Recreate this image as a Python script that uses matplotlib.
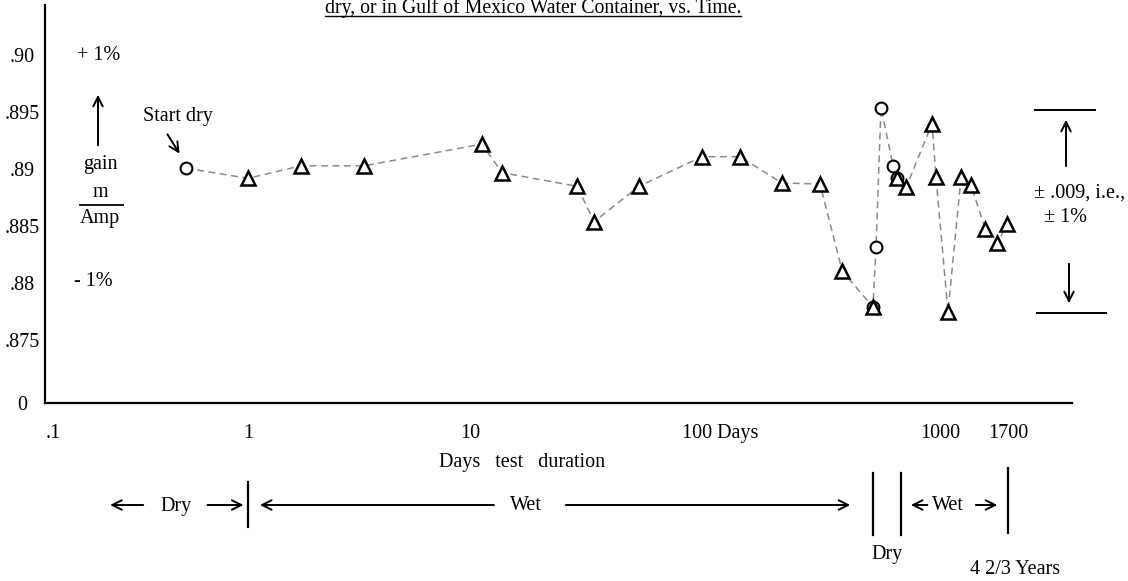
import numpy as np
import pandas as pd
import matplotlib
matplotlib.use("Agg")
import matplotlib.pyplot as plt
from matplotlib.lines import Line2D
from matplotlib.ticker import NullLocator
from matplotlib.transforms import blended_transform_factory, ScaledTranslation

# gain readings (m/Amp) vs days of test; circles = dry, triangles = wet
dry_days = [0.48, 528, 544, 570, 640, 664]
dry_gain = [0.8901, 0.8779, 0.8832, 0.8954, 0.8903, 0.8892]

wet_days = [1.0, 1.73, 3.33, 11.3, 13.8, 29.5, 35, 55, 104, 149, 222, 319, 394,
            528, 664, 724, 927, 962, 1064, 1178, 1274, 1421, 1561, 1687]
wet_gain = [0.8892, 0.8903, 0.8903, 0.8922, 0.8897, 0.8885, 0.8854, 0.8885,
            0.8911, 0.8911, 0.8888, 0.8887, 0.8811, 0.8779, 0.8892, 0.8884,
            0.8940, 0.8893, 0.8775, 0.8893, 0.8886, 0.8848, 0.8835, 0.8852]

x_ticks = [0.1, 1, 10, 100, 1000, 1700]
x_labels = [".1", "1", "10", "100 Days", "1000", "1700"]
y_floor = 0.8695
y_ticks = [0.90, 0.895, 0.89, 0.885, 0.88, 0.875, y_floor]
y_labels = [".90", ".895", ".89", ".885", ".88", ".875", "0"]

band_hi, band_lo = 0.8952, 0.8774
period_edges = [1, 528, 690, 1700]

title = "dry, or in Gulf of Mexico Water Container, vs. Time."

plt.rcParams["font.family"] = ["Liberation Serif", "DejaVu Serif"]
plt.rcParams["font.size"] = 14.5

W, H = 1128, 581
fig = plt.figure(figsize=(W / 100, H / 100), dpi=100)
ax = fig.add_axes([45 / W, (H - 403) / H, (1072 - 45) / W, (403 - 5) / H])


def fx(p):
    return p / W


def fy(p):
    return 1 - p / H


# hand drawn log axis: decades are not evenly spaced, so interpolate in log10
knot_log = np.log10(x_ticks)
knot_pos = np.array([53, 248, 470, 698, 940, 1008], float)
lo_slope = (knot_pos[1] - knot_pos[0]) / (knot_log[1] - knot_log[0])
hi_slope = (knot_pos[-1] - knot_pos[-2]) / (knot_log[-1] - knot_log[-2])


def fwd(x):
    x = np.asarray(x, float)
    lx = np.log10(np.where(x > 0, x, 1e-9))
    out = np.interp(lx, knot_log, knot_pos)
    out = np.where(lx < knot_log[0], knot_pos[0] + (lx - knot_log[0]) * lo_slope, out)
    out = np.where(lx > knot_log[-1], knot_pos[-1] + (lx - knot_log[-1]) * hi_slope, out)
    return out


def inv(p):
    p = np.asarray(p, float)
    lx = np.interp(p, knot_pos, knot_log)
    lx = np.where(p < knot_pos[0], knot_log[0] + (p - knot_pos[0]) / lo_slope, lx)
    lx = np.where(p > knot_pos[-1], knot_log[-1] + (p - knot_pos[-1]) / hi_slope, lx)
    return 10 ** np.clip(lx, -12, 12)


ax.set_xscale("function", functions=(fwd, inv))
ax.set_xlim(0.091, 2800)
ax.set_ylim(y_floor, 0.9044)

# connecting dashed line in time order
dry = pd.DataFrame({"days": dry_days, "gain": dry_gain})
wet = pd.DataFrame({"days": wet_days, "gain": wet_gain})
line = pd.concat([dry, wet]).drop_duplicates("days").sort_values("days")
ax.plot(line["days"], line["gain"], color="#8a8a8a", lw=1.1,
        ls=(0, (4.5, 3)), zorder=2)
ax.plot(dry["days"], dry["gain"], ls="none", marker="o", ms=8.5,
        mfc="white", mec="black", mew=1.5, zorder=3)
ax.plot(wet["days"], wet["gain"], ls="none", marker="^", ms=9.5,
        mfc="white", mec="black", mew=1.8, zorder=4)

for s in ["top", "right"]:
    ax.spines[s].set_visible(False)
for s in ["left", "bottom"]:
    ax.spines[s].set_linewidth(1.6)

ax.set_xticks(x_ticks, x_labels)
ax.xaxis.set_minor_locator(NullLocator())
ax.set_yticks(y_ticks, y_labels)
ax.tick_params(length=0)
ax.tick_params(axis="x", pad=15)
ax.tick_params(axis="y", pad=16.5)
for lbl in ax.get_yticklabels():
    lbl.set_ha("center")

arrow = dict(arrowstyle="->", lw=1.4, color="black", mutation_scale=17)

# title, underlined, at the top edge of the page
ttl = fig.text(fx(325), fy(13), title, ha="left", va="baseline", fontsize=14.2)
fig.canvas.draw()
bb = ttl.get_window_extent()
fig.add_artist(Line2D([bb.x0 / W, bb.x1 / W], [fy(16), fy(16)], color="black", lw=1))

# left side labels
fig.text(fx(99), fy(55), "+ 1%", ha="center", va="center")
ax.annotate("", xy=(fx(98), fy(92)), xytext=(fx(98), fy(148)),
            xycoords="figure fraction", arrowprops=arrow, annotation_clip=False)
fig.text(fx(100), fy(165), "gain", ha="center", va="center")
fig.text(fx(100), fy(192), "m", ha="center", va="center")
fig.add_artist(Line2D([fx(80), fx(123)], [fy(205), fy(205)], color="black", lw=1.3))
fig.text(fx(100), fy(218), "Amp", ha="center", va="center")
fig.text(fx(93), fy(282), "- 1%", ha="center", va="center")

fig.text(fx(178), fy(116), "Start dry", ha="center", va="center")
ax.annotate("", xy=(fx(181), fy(156)), xytext=(fx(166), fy(132)),
            xycoords="figure fraction", arrowprops=arrow, annotation_clip=False)

# right side: +/- .009 band
band = blended_transform_factory(fig.transFigure, ax.transData)
fig.add_artist(Line2D([fx(1035), fx(1095)], [band_hi, band_hi], transform=band,
                      color="black", lw=1.4, clip_on=False))
fig.add_artist(Line2D([fx(1037), fx(1106)], [band_lo, band_lo], transform=band,
                      color="black", lw=1.4, clip_on=False))
ax.annotate("", xy=(fx(1066), fy(117)), xytext=(fx(1066), fy(169)),
            xycoords="figure fraction", arrowprops=arrow, annotation_clip=False)
ax.annotate("", xy=(fx(1069), fy(306)), xytext=(fx(1069), fy(261)),
            xycoords="figure fraction", arrowprops=arrow, annotation_clip=False)
fig.text(fx(1080), fy(193), "± .009, i.e.,", ha="center", va="center")
fig.text(fx(1066), fy(217), "± 1%", ha="center", va="center")

# x label
fig.text(fx(522), fy(463), "Days   test   duration", ha="center", va="center")

# bottom row: dry / wet periods, x in days
row = blended_transform_factory(ax.transData, fig.transFigure)
bar_spans = [(482, 527), (473, 535), (473, 535), (468, 533)]
for d, (top, bot) in zip(period_edges, bar_spans):
    fig.add_artist(Line2D([d, d], [fy(top), fy(bot)], transform=row,
                          color="black", lw=1.6, clip_on=False))

ry = fy(505)
for tail, head in [(0.30, 0.19), (0.60, 0.98), (13.1, 1.10), (25.6, 437),
                   (910, 738), (1294, 1597)]:
    ax.annotate("", xy=(head, ry), xytext=(tail, ry), xycoords=row,
                arrowprops=arrow, annotation_clip=False)
ax.text(0.43, fy(506), "Dry", transform=row, ha="center", va="center")
ax.text(17.6, fy(506), "Wet", transform=row, ha="center", va="center")
ax.text(1064, fy(506), "Wet", transform=row, ha="center", va="center")
ax.text(604, fy(554), "Dry", transform=row, ha="center", va="center")
ax.text(1794, fy(569), "4 2/3 Years", transform=row, ha="center", va="center")

# "100 Days" label sits a bit right of its tick in the original
lbl = ax.get_xticklabels()[3]
lbl.set_transform(lbl.get_transform() + ScaledTranslation(22 / 100, 0, fig.dpi_scale_trans))

fig.savefig("out.png", dpi=100)
